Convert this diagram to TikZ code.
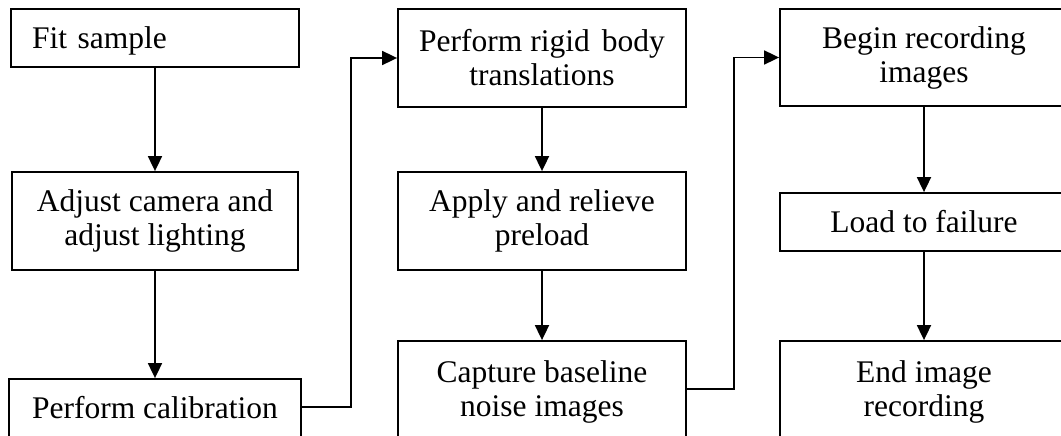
\documentclass[tikz,border=0pt]{standalone}
\usepackage{fontspec}
\setmainfont{Liberation Serif}
\usetikzlibrary{arrows.meta}

\tikzset{
  stepbox/.style={draw, line width=1.8pt, inner sep=2pt, align=center,
    font=\fontsize{31.5}{34}\selectfont},
  oneline/.style={text height=21.5pt},
  arr/.style={line width=1.8pt, -{Triangle[length=15pt,width=14pt]}},
}

\begin{document}
\begin{tikzpicture}[x=1pt, y=-1pt]
  \clip (0,0) rectangle (1061,436);
  \fill[white] (0,0) rectangle (1061,436);

  % first column
  \node[stepbox, oneline, text depth=0pt, inner xsep=21pt, text width=246pt,
        align=left, minimum height=58pt] (fit) at (155,38) {Fit sample};
  \node[stepbox, minimum width=286pt, minimum height=98pt] (adjust) at (155,221)
        {Adjust camera and\\adjust lighting};
  \node[stepbox, oneline, text depth=14.5pt, minimum width=292pt, minimum height=71pt]
        (calib) at (155,414.5) {Perform calibration};

  % second column
  \node[stepbox, minimum width=288pt, minimum height=98pt] (rigid) at (542,58)
        {Perform rigid\hspace{12pt}body\\translations};
  \node[stepbox, minimum width=288pt, minimum height=98pt] (apply) at (542,221)
        {Apply and relieve\\preload};
  \node[stepbox, minimum width=288pt, minimum height=102pt] (capture) at (542,392)
        {Capture baseline\\noise images};

  % third column
  \node[stepbox, minimum width=288pt, minimum height=97pt] (begin) at (924,57.5)
        {Begin recording\\images};
  \node[stepbox, oneline, text depth=1.5pt, minimum width=288pt, minimum height=58pt]
        (load) at (924,222) {Load to failure};
  \node[stepbox, minimum width=288pt, minimum height=102pt] (end) at (924,392)
        {End image\\recording};

  % connectors
  \draw[arr] (fit) -- (adjust);
  \draw[arr] (adjust) -- (calib);
  \draw[arr] ([yshift=7.5pt]calib.east) -- ++(49,0) |- (rigid.west);
  \draw[arr] (rigid) -- (apply);
  \draw[arr] (apply) -- (capture);
  \draw[arr] ([yshift=3pt]capture.east) -- ++(47,0) |- (begin.west);
  \draw[arr] (begin) -- (load);
  \draw[arr] (load) -- (end);
\end{tikzpicture}
\end{document}
